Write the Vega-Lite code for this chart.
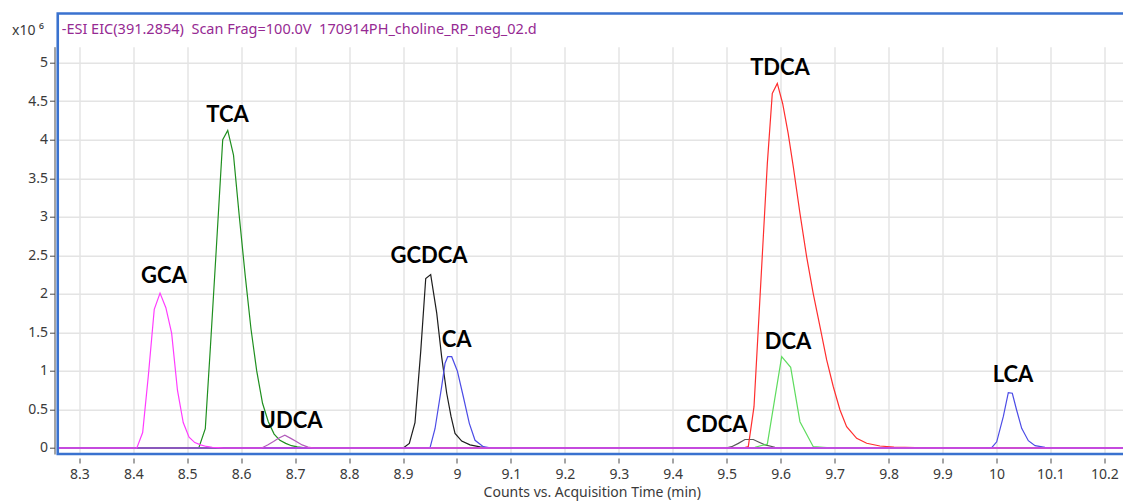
{
  "$schema": "https://vega.github.io/schema/vega-lite/v6.json",
  "autosize": {"type": "none"},
  "padding": {"left": 58.5, "top": 46.7, "right": 0, "bottom": 47},
  "width": 1066.5,
  "height": 407.3,
  "background": "white",
  "config": {
    "view": {"stroke": null},
    "axis": {
      "labelFont": "Noto Sans",
      "labelFontSize": 14,
      "labelColor": "#3a3a3a",
      "titleFont": "Noto Sans",
      "titleFontSize": 14,
      "titleFontWeight": "normal",
      "titleColor": "#3a3a3a",
      "tickColor": "#4a4a4a",
      "domainColor": "#4a4a4a",
      "gridColor": "#e4e4e4",
      "gridWidth": 1.5
    }
  },
  "datasets": {
    "traces": [
      {"compound": "GCDCA", "rt": 8.26, "intensity": 0},
      {"compound": "GCDCA", "rt": 8.9006, "intensity": 0},
      {"compound": "GCDCA", "rt": 8.9117, "intensity": 0.06},
      {"compound": "GCDCA", "rt": 8.9222, "intensity": 0.33},
      {"compound": "GCDCA", "rt": 8.9328, "intensity": 1.25},
      {"compound": "GCDCA", "rt": 8.9421, "intensity": 2.2},
      {"compound": "GCDCA", "rt": 8.9513, "intensity": 2.25},
      {"compound": "GCDCA", "rt": 8.9625, "intensity": 1.75},
      {"compound": "GCDCA", "rt": 8.9717, "intensity": 1.18},
      {"compound": "GCDCA", "rt": 8.981, "intensity": 0.71},
      {"compound": "GCDCA", "rt": 8.989, "intensity": 0.41},
      {"compound": "GCDCA", "rt": 8.9964, "intensity": 0.19},
      {"compound": "GCDCA", "rt": 9.0088, "intensity": 0.09},
      {"compound": "GCDCA", "rt": 9.0242, "intensity": 0.04},
      {"compound": "GCDCA", "rt": 9.0427, "intensity": 0.015},
      {"compound": "GCDCA", "rt": 9.06, "intensity": 0},
      {"compound": "GCDCA", "rt": 10.24, "intensity": 0},

      {"compound": "CDCA", "rt": 8.26, "intensity": 0},
      {"compound": "CDCA", "rt": 9.498, "intensity": 0},
      {"compound": "CDCA", "rt": 9.5093, "intensity": 0.017},
      {"compound": "CDCA", "rt": 9.5216, "intensity": 0.06},
      {"compound": "CDCA", "rt": 9.5339, "intensity": 0.11},
      {"compound": "CDCA", "rt": 9.5493, "intensity": 0.11},
      {"compound": "CDCA", "rt": 9.56, "intensity": 0.075},
      {"compound": "CDCA", "rt": 9.571, "intensity": 0.04},
      {"compound": "CDCA", "rt": 9.5895, "intensity": 0.01},
      {"compound": "CDCA", "rt": 9.6, "intensity": 0},
      {"compound": "CDCA", "rt": 10.24, "intensity": 0},

      {"compound": "TCA", "rt": 8.26, "intensity": 0},
      {"compound": "TCA", "rt": 8.5214, "intensity": 0},
      {"compound": "TCA", "rt": 8.5335, "intensity": 0.25},
      {"compound": "TCA", "rt": 8.5429, "intensity": 1.3},
      {"compound": "TCA", "rt": 8.5536, "intensity": 2.55},
      {"compound": "TCA", "rt": 8.5658, "intensity": 4.0},
      {"compound": "TCA", "rt": 8.5751, "intensity": 4.12},
      {"compound": "TCA", "rt": 8.5858, "intensity": 3.8},
      {"compound": "TCA", "rt": 8.5966, "intensity": 3.0},
      {"compound": "TCA", "rt": 8.6073, "intensity": 2.25},
      {"compound": "TCA", "rt": 8.6181, "intensity": 1.55},
      {"compound": "TCA", "rt": 8.6288, "intensity": 1.0},
      {"compound": "TCA", "rt": 8.6396, "intensity": 0.58},
      {"compound": "TCA", "rt": 8.6503, "intensity": 0.34},
      {"compound": "TCA", "rt": 8.6611, "intensity": 0.18},
      {"compound": "TCA", "rt": 8.6718, "intensity": 0.1},
      {"compound": "TCA", "rt": 8.6826, "intensity": 0.06},
      {"compound": "TCA", "rt": 8.6933, "intensity": 0.03},
      {"compound": "TCA", "rt": 8.704, "intensity": 0.015},
      {"compound": "TCA", "rt": 8.7148, "intensity": 0.005},
      {"compound": "TCA", "rt": 8.7255, "intensity": 0},
      {"compound": "TCA", "rt": 10.24, "intensity": 0},

      {"compound": "DCA", "rt": 8.26, "intensity": 0},
      {"compound": "DCA", "rt": 9.542, "intensity": 0},
      {"compound": "DCA", "rt": 9.5524, "intensity": 0.01},
      {"compound": "DCA", "rt": 9.5753, "intensity": 0.05},
      {"compound": "DCA", "rt": 9.6019, "intensity": 1.185},
      {"compound": "DCA", "rt": 9.6186, "intensity": 1.047},
      {"compound": "DCA", "rt": 9.6358, "intensity": 0.341},
      {"compound": "DCA", "rt": 9.6605, "intensity": 0.017},
      {"compound": "DCA", "rt": 9.679, "intensity": 0.008},
      {"compound": "DCA", "rt": 9.7, "intensity": 0},
      {"compound": "DCA", "rt": 10.24, "intensity": 0},

      {"compound": "TDCA", "rt": 8.26, "intensity": 0},
      {"compound": "TDCA", "rt": 9.53, "intensity": 0},
      {"compound": "TDCA", "rt": 9.54, "intensity": 0.017},
      {"compound": "TDCA", "rt": 9.5506, "intensity": 0.536},
      {"compound": "TDCA", "rt": 9.566, "intensity": 2.5},
      {"compound": "TDCA", "rt": 9.5753, "intensity": 3.69},
      {"compound": "TDCA", "rt": 9.5845, "intensity": 4.6},
      {"compound": "TDCA", "rt": 9.5938, "intensity": 4.73},
      {"compound": "TDCA", "rt": 9.6037, "intensity": 4.47},
      {"compound": "TDCA", "rt": 9.614, "intensity": 4.08},
      {"compound": "TDCA", "rt": 9.6234, "intensity": 3.65},
      {"compound": "TDCA", "rt": 9.6358, "intensity": 3.045},
      {"compound": "TDCA", "rt": 9.6482, "intensity": 2.48},
      {"compound": "TDCA", "rt": 9.6605, "intensity": 2.0},
      {"compound": "TDCA", "rt": 9.6729, "intensity": 1.574},
      {"compound": "TDCA", "rt": 9.6853, "intensity": 1.142},
      {"compound": "TDCA", "rt": 9.6976, "intensity": 0.795},
      {"compound": "TDCA", "rt": 9.71, "intensity": 0.493},
      {"compound": "TDCA", "rt": 9.7223, "intensity": 0.277},
      {"compound": "TDCA", "rt": 9.7409, "intensity": 0.126},
      {"compound": "TDCA", "rt": 9.7595, "intensity": 0.061},
      {"compound": "TDCA", "rt": 9.784, "intensity": 0.026},
      {"compound": "TDCA", "rt": 9.81, "intensity": 0.012},
      {"compound": "TDCA", "rt": 9.85, "intensity": 0.005},
      {"compound": "TDCA", "rt": 9.89, "intensity": 0.002},
      {"compound": "TDCA", "rt": 9.93, "intensity": 0},
      {"compound": "TDCA", "rt": 10.24, "intensity": 0},

      {"compound": "CA", "rt": 8.26, "intensity": 0},
      {"compound": "CA", "rt": 8.95, "intensity": 0},
      {"compound": "CA", "rt": 8.9593, "intensity": 0.25},
      {"compound": "CA", "rt": 8.9717, "intensity": 0.8},
      {"compound": "CA", "rt": 8.9779, "intensity": 1.1},
      {"compound": "CA", "rt": 8.9829, "intensity": 1.185},
      {"compound": "CA", "rt": 8.9903, "intensity": 1.185},
      {"compound": "CA", "rt": 9.0007, "intensity": 1.0},
      {"compound": "CA", "rt": 9.0118, "intensity": 0.665},
      {"compound": "CA", "rt": 9.0229, "intensity": 0.32},
      {"compound": "CA", "rt": 9.0335, "intensity": 0.1},
      {"compound": "CA", "rt": 9.0488, "intensity": 0.017},
      {"compound": "CA", "rt": 9.0644, "intensity": 0},
      {"compound": "CA", "rt": 10.24, "intensity": 0},

      {"compound": "LCA", "rt": 8.26, "intensity": 0},
      {"compound": "LCA", "rt": 9.98, "intensity": 0},
      {"compound": "LCA", "rt": 9.9912, "intensity": 0.004},
      {"compound": "LCA", "rt": 10.0005, "intensity": 0.08},
      {"compound": "LCA", "rt": 10.0128, "intensity": 0.41},
      {"compound": "LCA", "rt": 10.022, "intensity": 0.718},
      {"compound": "LCA", "rt": 10.0294, "intensity": 0.71},
      {"compound": "LCA", "rt": 10.0375, "intensity": 0.49},
      {"compound": "LCA", "rt": 10.0468, "intensity": 0.255},
      {"compound": "LCA", "rt": 10.0591, "intensity": 0.095},
      {"compound": "LCA", "rt": 10.0716, "intensity": 0.03},
      {"compound": "LCA", "rt": 10.0901, "intensity": 0.009},
      {"compound": "LCA", "rt": 10.1, "intensity": 0},
      {"compound": "LCA", "rt": 10.24, "intensity": 0},

      {"compound": "UDCA", "rt": 8.26, "intensity": 0},
      {"compound": "UDCA", "rt": 8.638, "intensity": 0},
      {"compound": "UDCA", "rt": 8.649, "intensity": 0.04},
      {"compound": "UDCA", "rt": 8.66, "intensity": 0.085},
      {"compound": "UDCA", "rt": 8.67, "intensity": 0.13},
      {"compound": "UDCA", "rt": 8.681, "intensity": 0.165},
      {"compound": "UDCA", "rt": 8.692, "intensity": 0.125},
      {"compound": "UDCA", "rt": 8.703, "intensity": 0.08},
      {"compound": "UDCA", "rt": 8.713, "intensity": 0.04},
      {"compound": "UDCA", "rt": 8.724, "intensity": 0.012},
      {"compound": "UDCA", "rt": 8.735, "intensity": 0},
      {"compound": "UDCA", "rt": 10.24, "intensity": 0},

      {"compound": "GCA", "rt": 8.26, "intensity": 0},
      {"compound": "GCA", "rt": 8.4066, "intensity": 0},
      {"compound": "GCA", "rt": 8.4174, "intensity": 0.2},
      {"compound": "GCA", "rt": 8.4281, "intensity": 0.95},
      {"compound": "GCA", "rt": 8.4389, "intensity": 1.8},
      {"compound": "GCA", "rt": 8.4496, "intensity": 2.01},
      {"compound": "GCA", "rt": 8.4604, "intensity": 1.82},
      {"compound": "GCA", "rt": 8.4711, "intensity": 1.49},
      {"compound": "GCA", "rt": 8.4819, "intensity": 0.75},
      {"compound": "GCA", "rt": 8.4926, "intensity": 0.33},
      {"compound": "GCA", "rt": 8.5034, "intensity": 0.14},
      {"compound": "GCA", "rt": 8.5141, "intensity": 0.07},
      {"compound": "GCA", "rt": 8.5249, "intensity": 0.04},
      {"compound": "GCA", "rt": 8.5356, "intensity": 0.02},
      {"compound": "GCA", "rt": 8.5464, "intensity": 0.01},
      {"compound": "GCA", "rt": 8.5571, "intensity": 0.005},
      {"compound": "GCA", "rt": 8.568, "intensity": 0},
      {"compound": "GCA", "rt": 10.24, "intensity": 0}
    ],
    "labels": [
      {"name": "GCA", "rt": 8.457, "intensity": 2.141},
      {"name": "TCA", "rt": 8.5747, "intensity": 4.236},
      {"name": "UDCA", "rt": 8.6924, "intensity": 0.2595},
      {"name": "GCDCA", "rt": 8.9482, "intensity": 2.4},
      {"name": "CA", "rt": 8.9995, "intensity": 1.307},
      {"name": "CDCA", "rt": 9.4819, "intensity": 0.2115},
      {"name": "TDCA", "rt": 9.5988, "intensity": 4.84},
      {"name": "DCA", "rt": 9.6136, "intensity": 1.285},
      {"name": "LCA", "rt": 10.0307, "intensity": 0.856}
    ],
    "header": [
      {"text": "-ESI EIC(391.2854)\u00a0\u00a0Scan Frag=100.0V\u00a0\u00a0170914PH_choline_RP_neg_02.d", "rt": 8.2674, "intensity": 5.372}
    ]
  },
  "layer": [
    {
      "data": {"name": "traces"},
      "mark": {"type": "line", "strokeWidth": 1.2, "clip": true, "interpolate": "linear"},
      "encoding": {
        "x": {
          "field": "rt",
          "type": "quantitative",
          "scale": {"domain": [8.2614, 10.2383], "nice": false, "zero": false},
          "axis": {
            "title": "Counts vs. Acquisition Time (min)",
            "values": [8.3, 8.4, 8.5, 8.6, 8.7, 8.8, 8.9, 9, 9.1, 9.2, 9.3, 9.4, 9.5, 9.6, 9.7, 9.8, 9.9, 10, 10.1, 10.2],
            "format": "~g",
            "domain": false,
            "offset": 4,
            "tickSize": 5,
            "labelPadding": 4,
            "titlePadding": 4,
            "grid": true
          }
        },
        "y": {
          "field": "intensity",
          "type": "quantitative",
          "scale": {"domain": [-0.0779, 5.2069], "nice": false, "zero": false},
          "axis": {
            "title": "x10 \u2076",
            "values": [0, 0.5, 1, 1.5, 2, 2.5, 3, 3.5, 4, 4.5, 5],
            "format": "~g",
            "offset": 4,
            "tickSize": 5,
            "labelPadding": 2,
            "titleAngle": 0,
            "titleAlign": "left",
            "titleBaseline": "middle",
            "titleX": -43,
            "titleY": -16,
            "grid": true
          }
        },
        "color": {
          "field": "compound",
          "type": "nominal",
          "legend": null,
          "scale": {
            "domain": ["GCDCA", "CDCA", "TCA", "DCA", "TDCA", "CA", "LCA", "UDCA", "GCA"],
            "range": ["#1e1e1e", "#5a5a5a", "#1f8f1f", "#5fdc5f", "#ff2e2e", "#4c4ce6", "#4c4ce6", "#b25cbb", "#ff3cff"]
          }
        }
      }
    },
    {
      "data": {"name": "labels"},
      "mark": {"type": "text", "font": "Lato", "fontWeight": "bold", "fontSize": 22, "align": "center", "baseline": "alphabetic", "color": "#000000"},
      "encoding": {
        "x": {"field": "rt", "type": "quantitative"},
        "y": {"field": "intensity", "type": "quantitative"},
        "text": {"field": "name"}
      }
    },
    {
      "data": {"name": "header"},
      "mark": {"type": "text", "font": "Noto Sans", "fontSize": 14.5, "align": "left", "baseline": "alphabetic", "color": "#962a93", "clip": false},
      "encoding": {
        "x": {"field": "rt", "type": "quantitative"},
        "y": {"field": "intensity", "type": "quantitative"},
        "text": {"field": "text"}
      }
    },
    {
      "data": {"values": [{}]},
      "mark": {"type": "rect", "filled": false, "stroke": "#3a72cf", "strokeWidth": 2.6, "clip": false},
      "encoding": {
        "x": {"datum": 8.26},
        "x2": {"datum": 10.245},
        "y": {"datum": -0.0779},
        "y2": {"datum": 5.638}
      }
    }
  ]
}
